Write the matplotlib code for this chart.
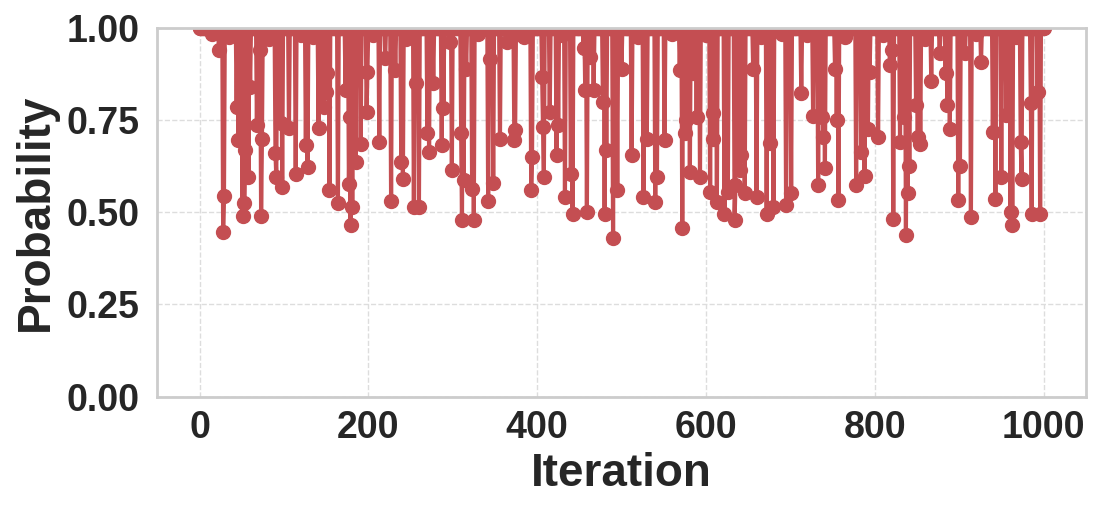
import numpy as np
import matplotlib
matplotlib.use("Agg")
import matplotlib.pyplot as plt
import seaborn as sns

# iterations where the probability drops below 1.0
dip_iters = [15, 23, 28, 29, 35, 44, 46, 51, 53, 54, 58, 60, 68, 72, 73, 74, 82, 90, 91, 96, 98,
             106, 114, 120, 126, 128, 135, 141, 147, 150, 151, 154, 164, 173, 177, 178, 179, 181,
             185, 191, 198, 199, 205, 213, 220, 227, 232, 239, 241, 245, 254, 256, 260, 270, 272,
             277, 287, 289, 297, 299, 310, 311, 313, 316, 323, 325, 330, 342, 344, 348, 356, 364,
             373, 374, 382, 385, 393, 394, 406, 407, 408, 415, 423, 425, 430, 433, 440, 442, 455,
             457, 459, 463, 467, 478, 480, 482, 490, 495, 500, 512, 520, 526, 530, 540, 542, 551,
             560, 569, 572, 575, 576, 581, 585, 589, 593, 600, 605, 608, 609, 613, 622, 626, 634,
             635, 640, 642, 646, 656, 660, 665, 672, 676, 680, 690, 695, 701, 713, 720, 727, 733,
             737, 739, 741, 753, 755, 757, 765, 778, 784, 788, 792, 794, 804, 810, 818, 820, 822,
             830, 835, 837, 839, 841, 849, 851, 854, 860, 867, 877, 884, 886, 889, 899, 901, 907,
             914, 920, 926, 940, 943, 950, 956, 961, 963, 968, 973, 974, 985, 986, 993, 996]
dip_values = [0.985, 0.94, 0.446, 0.543, 0.975, 0.785, 0.696, 0.489, 0.525, 0.668, 0.596, 0.84,
              0.736, 0.94, 0.489, 0.698, 0.97, 0.66, 0.596, 0.742, 0.569,
              0.728, 0.603, 0.98, 0.682, 0.622, 0.975, 0.728, 0.786, 0.827, 0.878, 0.56, 0.524,
              0.832, 0.576, 0.758, 0.465, 0.513,
              0.637, 0.685, 0.773, 0.881, 0.98, 0.691, 0.918, 0.53, 0.886, 0.637, 0.589, 0.97,
              0.515, 0.85, 0.515, 0.714, 0.664,
              0.85, 0.682, 0.784, 0.961, 0.614, 0.714, 0.478, 0.587, 0.89, 0.564, 0.478, 0.985,
              0.531, 0.915, 0.58, 0.698, 0.963,
              0.696, 0.723, 0.981, 0.975, 0.56, 0.65, 0.868, 0.732, 0.596, 0.773, 0.655, 0.736,
              0.98, 0.542, 0.605, 0.495, 0.945,
              0.832, 0.501, 0.922, 0.832, 0.8, 0.495, 0.668, 0.431, 0.56, 0.89, 0.655, 0.975,
              0.542, 0.7, 0.528, 0.596, 0.696,
              0.985, 0.886, 0.458, 0.714, 0.75, 0.61, 0.877, 0.759, 0.596, 0.98, 0.555, 0.7,
              0.768, 0.528, 0.495, 0.555, 0.478,
              0.573, 0.614, 0.655, 0.551, 0.89, 0.542, 0.975, 0.496, 0.687, 0.515, 0.985, 0.519,
              0.551, 0.823, 0.98, 0.761, 0.573,
              0.759, 0.705, 0.619, 0.89, 0.75, 0.533, 0.975, 0.573, 0.664, 0.598, 0.727, 0.881,
              0.705, 0.98, 0.899, 0.94, 0.483,
              0.691, 0.759, 0.437, 0.551, 0.625, 0.791, 0.705, 0.685, 0.97, 0.857, 0.931, 0.877,
              0.791, 0.727, 0.533, 0.625, 0.931,
              0.487, 0.985, 0.908, 0.718, 0.537, 0.596, 0.764, 0.501, 0.465, 0.975, 0.691, 0.589,
              0.797, 0.495, 0.827, 0.495]
n_iters = 1001

iterations = np.arange(n_iters)
probs = np.ones(n_iters)
probs[dip_iters] = dip_values

sns.set_style("whitegrid", {"grid.linestyle": "--", "axes.edgecolor": "#cccccc"})
plt.rcParams["font.family"] = ["Liberation Sans", "DejaVu Sans"]
plt.rcParams["font.weight"] = "bold"

fig, ax = plt.subplots(figsize=(11, 5.09), dpi=100)
fig.subplots_adjust(left=0.143, right=0.987, top=0.945, bottom=0.221)

ax.plot(iterations, probs, color="#C44E52", lw=3, marker="o", markersize=10)

ax.set_ylim(0, 1)
ax.set_yticks([0, 0.25, 0.5, 0.75, 1.0])
ax.set_xticks([0, 200, 400, 600, 800, 1000])
ax.set_xlabel("Iteration", fontsize=33, fontweight="bold", labelpad=4)
ax.set_ylabel("Probability", fontsize=33, fontweight="bold", labelpad=6)
ax.tick_params(labelsize=27, length=0)
ax.tick_params(axis="x", pad=10)
ax.tick_params(axis="y", pad=13)
for lbl in ax.get_xticklabels() + ax.get_yticklabels():
    lbl.set_fontweight("bold")
ax.grid(True, linestyle="--", color="#dddddd", lw=1)
for s in ax.spines.values():
    s.set_linewidth(2)
    s.set_color("#cccccc")

fig.savefig("out.png", dpi=100)
